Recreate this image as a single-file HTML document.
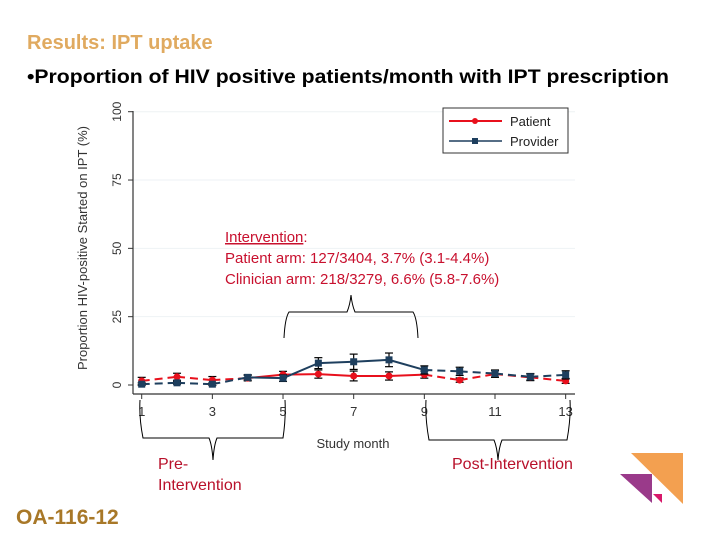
<!DOCTYPE html>
<html><head><meta charset="utf-8"><style>
html,body{margin:0;padding:0;background:#fff;}
svg{display:block;font-family:"Liberation Sans",Arial,sans-serif;}
</style></head><body>
<svg id="chart" width="720" height="540" viewBox="0 0 720 540">
<text x="27" y="49" font-size="20" font-weight="bold" fill="#e0aa60">Results: IPT uptake</text>
<text x="27" y="83" font-size="19" font-weight="bold" fill="#000" textLength="642" lengthAdjust="spacingAndGlyphs">•Proportion of HIV positive patients/month with IPT prescription</text>
<g id="plot"></g>
<g>
<rect x="443" y="108" width="125" height="45" fill="#fff" stroke="#333" stroke-width="1"/>
<g>
<line x1="449" y1="121" x2="502" y2="121" stroke="#e8101c" stroke-width="2"/>
<circle cx="475" cy="121" r="3" fill="#e8101c"/>
<text x="510" y="126" font-size="13" fill="#222">Patient</text></g>
<g>
<line x1="449" y1="141" x2="502" y2="141" stroke="#1e3f5e" stroke-width="1.5"/>
<rect x="472" y="138" width="6" height="6" fill="#1e3f5e"/>
<text x="510" y="146" font-size="13" fill="#222">Provider</text></g>
</g>
<g fill="#c8102e" font-size="15">
<text x="225" y="242"><tspan text-decoration="underline">Intervention</tspan>:</text>
<text x="225" y="263">Patient arm: 127/3404, 3.7% (3.1-4.4%)</text>
<text x="225" y="284">Clinician arm: 218/3279, 6.6% (5.8-7.6%)</text>
</g>
<g fill="none" stroke="#000" stroke-width="1">
<path d="M284,338 Q285,318 289,312 L347,312 Q350,305 351,295 Q352,305 355,312 L413,312 Q417,318 418,338"/>
<path d="M140,400 Q139,418 143,438 L209,438 Q212,445 213,460 Q214,445 217,438 L283,438 Q286,418 285,400"/>
<path d="M426,400 Q425,418 429,440 L494,440 Q497,447 498,460 Q499,447 502,440 L567,440 Q571,418 570,400"/>
</g>
<text x="158" y="469" font-size="16" fill="#b8102a">Pre-</text>
<text x="158" y="490" font-size="16" fill="#b8102a">Intervention</text>
<text x="452" y="469" font-size="16" fill="#b8102a">Post-Intervention</text>
<text x="16" y="524" font-size="21" font-weight="bold" fill="#a87828">OA-116-12</text>
<g>
<polygon points="631,453 683,453 683,504" fill="#f3a050"/>
<polygon points="620,474 652,474 652,503" fill="#9a3a8a"/>
<polygon points="653,494 662,494 662,503" fill="#d8186a"/>
</g>
</svg>
<script>
const months=[1,2,3,4,5,6,7,8,9,10,11,12,13];
const patientVals=[1.5,3,1.8,2.5,3.8,4,3.3,3.3,3.8,1.8,4,2.8,1.5];
const patientErr=[1.3,1.3,1.3,1,1.2,1.5,1.8,1.5,1.3,0.8,1.2,1.2,0.9];
const providerVals=[0.3,0.8,0.3,2.8,2.5,8,8.5,9.2,5.5,5,4.2,3,3.7];
const providerErr=[0.5,0.5,0.5,1,1.2,2,2.8,2.5,1.5,1.5,1.3,1.2,1.5];
const yTicks=[0,25,50,75,100];
const xTicks=[1,3,5,7,9,11,13];
const NS='http://www.w3.org/2000/svg';
const x=m=>141.7+(m-1)*35.33;
const y=v=>385-v*2.733;
const g=document.getElementById('plot');
function mk(t,a,p){const e=document.createElementNS(NS,t);for(const k in a)e.setAttribute(k,a[k]);(p||g).appendChild(e);return e;}
yTicks.forEach(t=>{
 if(t>0){const gl=mk('line',{x1:133,x2:575,y1:y(t),y2:y(t),stroke:'#eef2f4','stroke-width':1});
 
 }
 mk('line',{x1:128,x2:133,y1:y(t),y2:y(t),stroke:'#333'});
 const tx=mk('text',{x:0,y:0,'font-size':12,fill:'#333','text-anchor':'middle',transform:`translate(${121},${y(t)}) rotate(-90)`});
 tx.textContent=t;
 
 
});
mk('line',{x1:133,x2:133,y1:111,y2:394,stroke:'#333','stroke-width':1.2});
mk('line',{x1:133,x2:575,y1:394,y2:394,stroke:'#333','stroke-width':1.2});
xTicks.forEach(t=>{
 mk('line',{x1:x(t),x2:x(t),y1:394,y2:399,stroke:'#333'});
 const tx=mk('text',{x:x(t),y:416,'font-size':13,fill:'#333','text-anchor':'middle'});
 tx.textContent=t;
 
 
});
const xt=mk('text',{x:353,y:448,'font-size':13,fill:'#333','text-anchor':'middle'});xt.textContent='Study month';


const yt=mk('text',{x:0,y:0,'font-size':13,fill:'#333','text-anchor':'middle',transform:'translate(87,248) rotate(-90)'});yt.textContent='Proportion HIV-positive Started on IPT (%)';


function series(vals,errs,col,sq,name){
 for(let i=0;i<months.length-1;i++){
  const solid=months[i]>=4&&months[i+1]<=9;
  const l=mk('line',{x1:x(months[i]),y1:y(vals[i]),x2:x(months[i+1]),y2:y(vals[i+1]),stroke:col,'stroke-width':2,'stroke-dasharray':solid?'':'8,5'});
  
  
 }
 months.forEach((m,i)=>{
  const cx=x(m),lo=y(vals[i]-errs[i]),hi=y(vals[i]+errs[i]);
  mk('line',{x1:cx,x2:cx,y1:lo,y2:hi,stroke:'#000','stroke-width':1.2});
  mk('line',{x1:cx-4,x2:cx+4,y1:lo,y2:lo,stroke:'#000','stroke-width':1.2});
  mk('line',{x1:cx-4,x2:cx+4,y1:hi,y2:hi,stroke:'#000','stroke-width':1.2});
  const p=sq?mk('rect',{x:cx-3.5,y:y(vals[i])-3.5,width:7,height:7,fill:col}):mk('circle',{cx:cx,cy:y(vals[i]),r:3.5,fill:col});
  
  
 });
}
series(patientVals,patientErr,'#e8101c',false,'patient');
series(providerVals,providerErr,'#1e3f5e',true,'provider');
</script>
</body></html>
